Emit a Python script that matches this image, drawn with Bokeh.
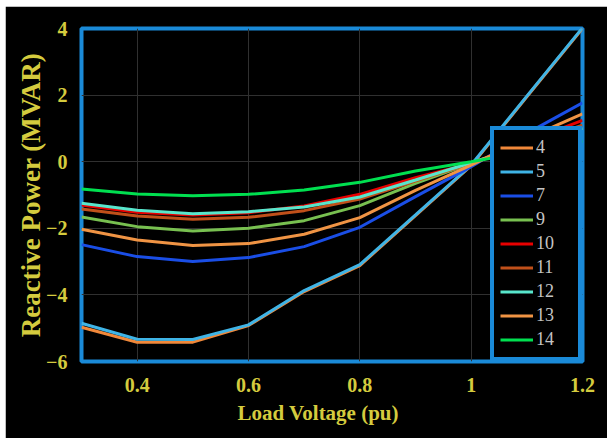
from bokeh.plotting import figure
from bokeh.models import Range1d, FixedTicker, Legend, LegendItem, Spacer, Title
from bokeh.layouts import column, row
from bokeh.embed import file_html
from bokeh.resources import INLINE

# ---- data ----
voltage = [0.3, 0.4, 0.5, 0.6, 0.7, 0.8, 0.9, 1.0, 1.1, 1.2]
bus_names = ["4", "5", "7", "9", "10", "11", "12", "13", "14"]
q_bus4 = [-4.97, -5.42, -5.42, -4.92, -3.90, -3.12, -1.62, -0.12, 1.95, 4.00]
q_bus5 = [-4.85, -5.33, -5.34, -4.90, -3.87, -3.09, -1.60, -0.10, 1.97, 4.02]
q_bus7 = [-2.49, -2.85, -3.00, -2.88, -2.55, -1.97, -1.05, -0.15, 0.85, 1.77]
q_bus9 = [-1.66, -1.95, -2.08, -2.00, -1.77, -1.32, -0.65, -0.05, 0.50, 1.00]
q_bus10 = [-1.30, -1.52, -1.60, -1.53, -1.33, -0.98, -0.48, -0.05, 0.60, 1.24]
q_bus11 = [-1.42, -1.63, -1.73, -1.67, -1.47, -1.12, -0.58, -0.05, 0.55, 1.10]
q_bus12 = [-1.25, -1.46, -1.56, -1.50, -1.36, -1.06, -0.55, -0.03, 0.50, 1.00]
q_bus13 = [-2.03, -2.35, -2.52, -2.46, -2.18, -1.68, -0.86, -0.10, 0.70, 1.44]
q_bus14 = [-0.82, -0.97, -1.02, -0.98, -0.85, -0.62, -0.28, 0.00, 0.30, 0.62]
x_ticks = [0.4, 0.6, 0.8, 1.0, 1.2]
x_tick_labels = ["0.4", "0.6", "0.8", "1", "1.2"]
y_ticks = [-6, -4, -2, 0, 2, 4]

series = [q_bus4, q_bus5, q_bus7, q_bus9, q_bus10, q_bus11, q_bus12, q_bus13, q_bus14]
colors = ["#f0883a", "#3fb4e6", "#1a4ee6", "#78c050", "#e80000",
          "#c0501a", "#58e6cc", "#f09444", "#00e050"]

LABEL_COLOR = "#d4cb3e"
FRAME_BLUE = "#1a8ad8"
SERIF = "Times New Roman, Liberation Serif, serif"

p = figure(width=602, height=432, output_backend="svg", toolbar_location=None,
           x_range=Range1d(0.3, 1.2), y_range=Range1d(-6, 4),
           background_fill_color="black", border_fill_color="black",
           min_border_left=76, min_border_right=25, min_border_top=22,
           min_border_bottom=77)

p.outline_line_color = FRAME_BLUE
p.outline_line_width = 4
p.outline_line_alpha = 1.0

items = []
for name, vals, c in zip(bus_names, series, colors):
    r = p.line(voltage, vals, line_color=c, line_width=3)
    items.append(LegendItem(label=name, renderers=[r]))

p.xaxis.ticker = FixedTicker(ticks=x_ticks)
p.xaxis.major_label_overrides = {t: l for t, l in zip(x_ticks, x_tick_labels)}
p.yaxis.ticker = FixedTicker(ticks=y_ticks)

for ax in (p.xaxis, p.yaxis):
    ax.axis_line_color = None
    ax.major_tick_line_color = None
    ax.minor_tick_line_color = None
    ax.major_label_text_font = SERIF
    ax.major_label_text_font_style = "bold"
    ax.major_label_text_font_size = "20px"
    ax.major_label_text_color = LABEL_COLOR
    ax.axis_label_text_font = SERIF
    ax.axis_label_text_font_style = "bold"
    ax.axis_label_text_color = LABEL_COLOR

p.xaxis.major_label_standoff = 10
p.yaxis.axis_label = "Reactive Power (MVAR)"
p.yaxis.axis_label_text_font_size = "27px"
p.yaxis.major_label_standoff = 8
p.yaxis.axis_label_standoff = -3

xlabel = Title(text="Load Voltage (pu)", align="left", offset=156,
               text_font=SERIF, text_font_style="bold", text_font_size="21px",
               text_color=LABEL_COLOR, standoff=8)
p.add_layout(xlabel, "below")

p.grid.grid_line_color = "#303030"
p.grid.grid_line_width = 1

legend = Legend(items=items, location="bottom_right", margin=0, padding=6,
                spacing=1, glyph_width=33, glyph_height=23, label_height=23,
                label_width=36, label_standoff=3,
                label_text_font=SERIF, label_text_font_size="18px",
                label_text_color="#c4c4c4",
                background_fill_color="black", background_fill_alpha=1.0,
                border_line_color=FRAME_BLUE, border_line_width=4,
                border_line_alpha=1.0)
p.add_layout(legend)

layout = column(Spacer(width=607, height=6),
                row(Spacer(width=5, height=432), p))

open("out.html", "w").write(file_html(layout, INLINE))
